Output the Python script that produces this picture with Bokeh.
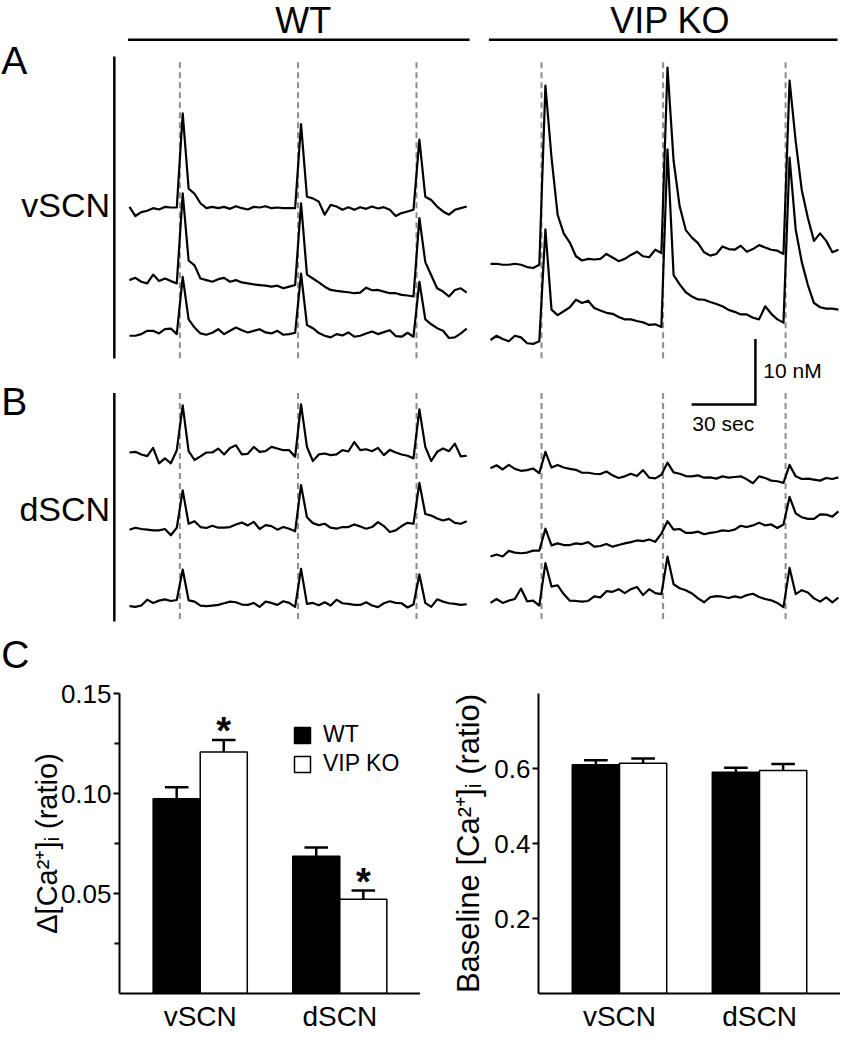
import numpy as np
from bokeh.plotting import figure
from bokeh.layouts import column, row
from bokeh.models import Range1d, FactorRange, FixedTicker, NumeralTickFormatter, ColumnDataSource
from bokeh.transform import dodge
from bokeh.core.properties import value
from bokeh.embed import file_html
from bokeh.resources import INLINE

FONT = "Liberation Sans"

# ---------------- data: [Ca2+]i traces, nM relative to each cell's baseline ----------------
DT_WT = 2.783            # s between samples, WT recordings
DT_KO = 2.871            # s between samples, VIP KO recordings
STIM_WT = [23.7, 79.3, 135.0]   # s, stimulus times (dashed lines), WT
STIM_KO = [24.0, 81.2, 138.8]   # s, stimulus times, VIP KO

VSCN_WT_1 = [0.2, -1.2, -0.6, -0.4, 0.0, -0.2, 0.2, 0.1, 0.1,
             14.5,
             3.0, 2.2, 0.75, 0.0, 0.2, 0.0, 0.2, -0.1, 0.3, 0.0, -0.2, 0.2, 0.1, 0.3, 0.0, 0.1, 0.0, 0.0, 0.0,
             12.85,
             1.75, 1.5, 1.0, -1.0, 0.5, 0.25, -0.25, 0.15, -0.25, 0.15, -0.1, 0.25, -0.05, 0.15, -0.25, -1.2, -0.75, -0.5, -0.25,
             10.5,
             1.75, 1.25, 0.25, -0.5, -1.0, -0.25, 0.0, 0.25]
VSCN_WT_2 = [0.25, 0.6, 0.0, -0.25, 1.1, 0.1, 0.5, 0.1, -0.25,
             13.5,
             3.25, 2.5, 0.5, 0.25, 0.0, 0.4, 0.6, 0.0, 0.25, -0.1, -0.25, -0.4, -0.5, -0.6, -0.75, -0.6, -1.0, -0.75, -0.5,
             12.0,
             1.1, 0.5, -0.1, -0.75, -1.25, -1.4, -1.5, -1.6, -1.75, -1.65, -0.9, -1.3, -1.25, -1.5, -1.75, -1.75, -2.0, -2.1, -2.25,
             9.75,
             3.0, 1.0, -1.0, -1.5, -2.25, -1.25, -1.0, -1.65]
VSCN_WT_3 = [-0.25, -0.25, 0.0, 0.5, 0.5, 0.1, 0.75, 0.85, 0.0,
             8.75,
             2.25, 1.0, 0.1, -0.1, 0.2, 0.75, 0.0, 0.5, 1.0, 0.6, 0.25, 0.5, 0.75, 0.25, 0.1, 0.5, -0.1, 0.0, 0.2,
             9.25,
             1.4, 0.9, 0.15, -0.25, -0.5, 0.0, -0.2, 0.25, -0.4, -0.25, 0.1, 0.4, 0.0, 0.3, 0.6, -0.3, -0.4, 0.2, -0.4,
             8.0,
             2.25, 1.5, 0.9, 0.5, -0.6, -0.5, 0.1, 0.85]
VSCN_KO_1 = [0.0, 0.0, -0.15, -0.15, 0.0, -0.15, -0.5, -0.65, -0.15,
             27.25,
             16.25, 7.5, 4.65, 3.25, 1.15, 0.5, 0.75, 0.65, 0.75, 1.5, 0.95, 0.4, 0.75, 1.35, 1.85, 1.15, 1.0, 2.15, 1.65,
             30.0,
             15.75, 8.75, 5.15, 4.0, 3.15, 1.75, 1.25, 1.5, 2.65, 2.25, 2.15, 2.75, 1.85, 2.25, 2.85, 2.5, 2.15, 2.0, 1.5,
             28.0,
             18.75, 11.25, 7.0, 3.5, 4.65, 3.5, 1.75, 2.15]
VSCN_KO_2 = [0.1, 0.75, 0.25, -0.1, 0.75, 0.5, -0.4, -0.5, -0.1,
             17.0,
             4.75, 3.9, 4.5, 5.1, 6.25, 5.75, 6.1, 5.0, 4.6, 4.25, 4.1, 3.6, 3.25, 3.25, 3.0, 2.8, 2.4, 2.5, 2.1,
             29.25,
             10.0, 8.6, 7.4, 6.75, 6.3, 6.25, 5.9, 5.6, 5.25, 4.7, 4.4, 4.0, 4.0, 3.5, 3.25, 5.25, 4.1, 3.25, 2.75,
             28.0,
             17.0, 12.0, 8.5, 5.75, 5.1, 4.9, 4.9, 4.75]
DSCN_WT_1 = [0.15, 0.25, -0.15, -0.4, 0.85, -1.5, -0.75, -1.5, 0.5,
             7.35,
             0.35, -1.0, -0.45, 0.15, 0.15, 0.75, -0.15, 0.85, 1.25, -0.15, -0.05, 1.0, 0.25, 0.35, 1.0, 0.75, 0.5, 0.5, -0.5,
             7.5,
             1.0, -1.15, -0.15, 0.0, -0.25, -0.15, 0.5, 0.3, 1.75, 0.5, 0.65, 0.35, 0.85, -0.25, 0.55, 0.15, -0.15, -0.35, -0.75,
             6.75,
             1.0, -1.15, 0.25, 0.75, 0.35, 1.5, -0.45, -0.35]
DSCN_WT_2 = [-0.4, -0.1, -0.3, -0.4, -0.5, -0.5, -0.3, -1.25, -0.1,
             5.6,
             0.5, 0.9, 0.0, -0.15, 0.2, -0.1, -0.1, 0.0, 0.4, 0.7, 0.25, 0.8, -0.3, 0.3, 0.15, -0.4, 0.0, -0.25, -0.65,
             6.4,
             1.5, 0.6, 0.3, 0.5, -0.1, -0.25, 0.0, 0.0, 0.4, 0.1, -0.25, 0.0, 0.75, 0.15, -0.75, -0.5, 0.15, 0.65, 0.5,
             6.75,
             2.0, 1.75, 1.3, 1.0, 1.25, 0.65, 0.5, 0.9]
DSCN_WT_3 = [-0.35, -0.45, -0.25, 0.65, 0.15, 0.5, 0.7, 0.45, 0.6,
             5.25,
             0.55, 0.35, -0.25, -0.35, -0.25, -0.15, 0.1, 0.35, 0.25, -0.1, -0.15, 0.15, -0.45, 0.35, 0.15, -0.15, 0.4, 0.15, -0.45,
             5.35,
             0.0, 0.15, -0.2, 0.25, -0.25, 0.65, 0.1, 0.0, -0.15, -0.15, 0.25, -0.25, -0.5, 0.1, 0.4, 0.15, 0.1, -0.55, -0.1,
             4.5,
             0.15, -0.45, 0.7, 0.35, 0.1, 0.0, -0.15, -0.05]
DSCN_KO_1 = [0.75, 1.2, 0.55, 1.25, 0.65, 0.35, 0.45, 0.7, 0.0,
             3.25,
             0.85, 1.25, 0.85, 0.65, 0.5, 0.05, 0.05, -0.1, -0.15, 0.25, -0.35, -0.75, -0.5, -0.1, -0.45, 0.45, -0.7, -0.8, -0.25,
             1.6,
             0.1, -0.1, -0.45, -0.5, -0.35, -0.7, -0.65, -0.85, -0.5, -0.7, -0.6, -0.5, -0.95, -1.55, -0.5, -0.75, -1.15, -1.25, -1.5,
             1.25,
             -0.5, -0.9, -0.85, -1.0, -1.15, -0.75, -0.9, -0.65]
DSCN_KO_2 = [-0.75, -0.45, -0.75, 0.1, -0.15, -0.25, -0.15, 0.15, 0.15,
             3.5,
             0.95, 1.25, 1.0, 1.0, 1.25, 1.15, 1.45, 0.75, 0.85, 1.15, 0.75, 1.0, 1.25, 1.45, 1.7, 1.6, 1.85, 1.5, 2.75,
             4.65,
             3.35, 3.45, 2.85, 2.85, 3.05, 2.65, 2.85, 3.0, 3.25, 3.15, 3.35, 3.95, 3.75, 4.0, 4.4, 4.0, 4.15, 3.6, 4.15,
             8.35,
             5.85, 5.25, 5.0, 5.0, 5.7, 5.65, 5.35, 6.15]
DSCN_KO_3 = [-0.6, 0.0, -0.6, -0.25, 0.0, 1.6, -0.35, -0.25, -1.0,
             5.5,
             1.9, 2.1, 0.75, -0.25, -0.3, -0.4, -0.3, 0.4, 0.25, 1.2, 1.1, 1.5, 0.9, 1.5, 1.85, 0.6, 1.5, 0.9, 0.75,
             6.5,
             2.25, 1.65, 1.35, 0.85, 0.1, -0.5, 0.3, 0.45, 0.35, 0.15, 0.4, 0.2, 0.6, 0.8, 0.3, 0.0, -0.2, -0.6, -1.25,
             4.75,
             0.75, 1.35, 1.0, 0.1, -0.4, 0.25, -0.5, 0.2]

SCALE_SEC = 30    # s, horizontal scale bar
SCALE_NM = 10     # nM, vertical scale bar

# ---------------- data: summary bar charts (C) ----------------
CATEGORIES = ["vSCN", "dSCN"]
GENOTYPES = ["WT", "VIP KO"]
DELTA_WT = [0.0974, 0.0686]
DELTA_WT_SEM = [0.0057, 0.0044]
DELTA_KO = [0.1207, 0.0471]
DELTA_KO_SEM = [0.0060, 0.0044]
DELTA_SIG = ["*", "*"]
BASE_WT = [0.610, 0.590]
BASE_WT_SEM = [0.012, 0.012]
BASE_KO = [0.614, 0.595]
BASE_KO_SEM = [0.013, 0.017]

# ---------------- layout (positions in the trace panel's own units: s across, nM up) ----------------
X_SPAN, Y_SPAN = 395.08, 103.5
WT_X0, KO_X0 = 60.65, 230.45
WT_V_BASE = [71.75, 60.5, 52.5]
KO_V_BASE = [63.25, 51.5]
WT_D_BASE = [34.25, 23.0, 11.25]
KO_D_BASE = [31.25, 19.25, 12.0]

top = figure(width=840, height=677, x_range=Range1d(0, X_SPAN), y_range=Range1d(0, Y_SPAN),
             x_axis_type=None, y_axis_type=None, output_backend="svg", toolbar_location=None,
             min_border=0, outline_line_color=None)

# stimulus dashed lines
for x0, stims in [(WT_X0, STIM_WT), (KO_X0, STIM_KO)]:
    xs = [x0 + s for s in stims]
    for y0, y1 in [(94.05, 48.75), (43.5, 8.55)]:
        top.segment(x0=xs, y0=[y0] * 3, x1=xs, y1=[y1] * 3, line_color="#8c8c8c",
                    line_width=2, line_dash="6 4")

# traces
groups = [
    ([VSCN_WT_1, VSCN_WT_2, VSCN_WT_3], WT_X0, DT_WT, WT_V_BASE),
    ([VSCN_KO_1, VSCN_KO_2], KO_X0, DT_KO, KO_V_BASE),
    ([DSCN_WT_1, DSCN_WT_2, DSCN_WT_3], WT_X0, DT_WT, WT_D_BASE),
    ([DSCN_KO_1, DSCN_KO_2, DSCN_KO_3], KO_X0, DT_KO, KO_D_BASE),
]
for traces, x0, dt, bases in groups:
    for vals, b in zip(traces, bases):
        t = np.arange(len(vals)) * dt
        top.line(x0 + t, b + np.asarray(vals), line_color="black", line_width=2.2, line_join="round")

# panel bars and header lines
top.segment(x0=[53.54, 53.54], y0=[94.95, 43.5], x1=[53.54, 53.54], y1=[48.75, 8.55],
            line_color="black", line_width=2.5)
top.segment(x0=[60.0, 229.71], y0=[97.5, 97.5], x1=[220.62, 393.69], y1=[97.5, 97.5],
            line_color="black", line_width=2.5)

# scale bar
cx, cy = 355.06, 41.75
top.line([cx - SCALE_SEC, cx, cx], [cy, cy, cy + SCALE_NM], line_color="black", line_width=2.5,
         line_join="miter")

top.text(x=[142.38, 315.0], y=[100.5, 100.5], text=GENOTYPES, text_font=value(FONT),
         text_font_size=value("36px"), text_align="center", text_baseline="middle")
top.text(x=[0.3, 0.3, 0.3], y=[94.4, 42.15, 3.55], text=["A", "B", "C"], text_font=value(FONT),
         text_font_size=value("39px"), text_align="left", text_baseline="middle")
top.text(x=[51.55, 51.55], y=[72.2, 25.8], text=CATEGORIES, text_font=value(FONT),
         text_font_size=value("34px"), text_align="right", text_baseline="middle")
top.text(x=[358.75, 325.4], y=[46.9, 38.9], text=["%d nM" % SCALE_NM, "%d sec" % SCALE_SEC],
         text_font=value(FONT), text_font_size=value("21px"), text_align="left",
         text_baseline="middle")


def bar_chart(wt, wt_err, ko, ko_err, y_max, ticks, minor, fmt, ylabel, border_left, border_top,
              frame_h, label_standoff, label_size, stars=None, legend=False):
    xr = FactorRange(factors=CATEGORIES, range_padding=0.186, range_padding_units="absolute",
                     factor_padding=0.186)
    p = figure(width=420, height=357, x_range=xr, y_range=Range1d(0, y_max), output_backend="svg",
               toolbar_location=None, min_border_left=border_left, min_border_right=0,
               min_border_top=border_top, min_border_bottom=357 - border_top - frame_h)
    p.outline_line_color = None
    p.grid.visible = False
    src = ColumnDataSource(dict(cat=CATEGORIES, wt=wt, ko=ko,
                                wt_hi=[v + e for v, e in zip(wt, wt_err)],
                                ko_hi=[v + e for v, e in zip(ko, ko_err)],
                                star=stars if stars else ["", ""]))
    kw_wt = dict(legend_label=GENOTYPES[0]) if legend else {}
    kw_ko = dict(legend_label=GENOTYPES[1]) if legend else {}
    p.vbar(x=dodge("cat", -0.2, range=xr), top="wt", width=0.4, fill_color="black",
           line_color="black", line_width=1.5, source=src, **kw_wt)
    p.vbar(x=dodge("cat", 0.2, range=xr), top="ko", width=0.4, fill_color="white",
           line_color="black", line_width=1.5, source=src, **kw_ko)
    for off, col in [(-0.2, "wt"), (0.2, "ko")]:
        p.segment(x0=dodge("cat", off, range=xr), y0=col, x1=dodge("cat", off, range=xr),
                  y1=col + "_hi", source=src, line_color="black", line_width=2.5)
        p.segment(x0=dodge("cat", off - 0.1, range=xr), y0=col + "_hi",
                  x1=dodge("cat", off + 0.1, range=xr), y1=col + "_hi", source=src,
                  line_color="black", line_width=2.5)
    if stars:
        p.text(x=dodge("cat", 0.2, range=xr), y="ko_hi", text="star", source=src,
               text_font=value(FONT), text_font_style="bold", text_font_size=value("38px"),
               text_align="center", text_baseline="middle", y_offset=-9)
    ya = p.yaxis[0]
    ya.ticker = FixedTicker(ticks=ticks, minor_ticks=minor)
    ya.formatter = NumeralTickFormatter(format=fmt)
    ya.axis_label = ylabel
    ya.axis_label_text_font = FONT
    ya.axis_label_text_font_style = "normal"
    ya.axis_label_text_font_size = label_size
    ya.axis_label_text_color = "black"
    ya.axis_label_standoff = label_standoff
    ya.major_label_text_font = FONT
    ya.major_label_text_font_size = "26px"
    ya.major_label_text_color = "black"
    ya.major_label_standoff = 2
    ya.axis_line_width = 2
    ya.major_tick_line_width = 2
    ya.minor_tick_line_width = 2
    ya.major_tick_out = 6
    ya.major_tick_in = 0
    ya.minor_tick_out = 5
    ya.minor_tick_in = 0
    xa = p.xaxis[0]
    xa.axis_line_width = 2
    xa.major_tick_line_color = None
    xa.minor_tick_line_color = None
    xa.major_tick_out = 0
    xa.major_tick_in = 0
    xa.major_label_text_font = FONT
    xa.major_label_text_font_size = "28px"
    xa.major_label_text_color = "black"
    xa.major_label_text_line_height = 1.0
    xa.major_label_standoff = 7
    if legend:
        lg = p.legend[0]
        lg.location = (173, frame_h - 31 - 54)
        lg.padding = 0
        lg.margin = 0
        lg.spacing = 2
        lg.glyph_width = 20
        lg.glyph_height = 20
        lg.label_height = 20
        lg.label_standoff = 11
        lg.label_text_font = FONT
        lg.label_text_font_size = "23px"
        lg.label_text_color = "black"
        lg.border_line_color = None
        lg.background_fill_alpha = 0
    return p


left = bar_chart(DELTA_WT, DELTA_WT_SEM, DELTA_KO, DELTA_KO_SEM, 0.15,
                 [0.05, 0.10, 0.15], [0.025, 0.075, 0.125], "0.00",
                 "\u0394[Ca\u00b2\u207a]\u1d62 (ratio)", 119, 15, 301, -5, "29px",
                 stars=DELTA_SIG, legend=True)
right = bar_chart(BASE_WT, BASE_WT_SEM, BASE_KO, BASE_KO_SEM, 0.8,
                  [0.2, 0.4, 0.6], [], "0.0",
                  "Baseline [Ca\u00b2\u207a]\u1d62 (ratio)", 118, 16, 300, 5, "31px")

page = column(top, row(left, right))
open("out.html", "w").write(file_html(page, INLINE))
